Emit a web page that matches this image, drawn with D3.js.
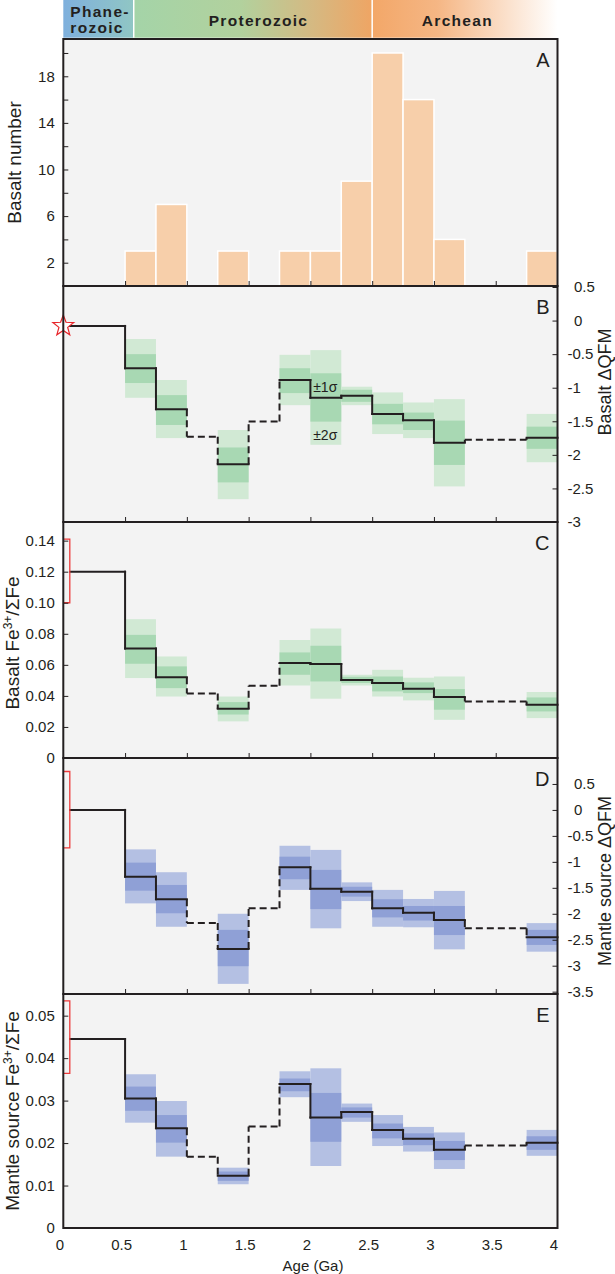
<!DOCTYPE html>
<html><head><meta charset="utf-8">
<script src="https://cdn.jsdelivr.net/npm/d3@7"></script>
<style>
body{margin:0;background:#fff}
svg{display:block}
text{font-family:"Liberation Sans",Arial,sans-serif;fill:#231f20}
</style>
</head><body>
<svg id="c" width="615" height="1274"></svg>
<script>
// ---------------- DATA ----------------
const eraNames = ["Phanerozoic", "Proterozoic", "Archean"];
const eraStart = [0, 0.57, 2.5];
const eraEnd = [0.57, 2.5, 4];

const histBinStart = [0.5, 0.75, 1.25, 1.75, 2.0, 2.25, 2.5, 2.75, 3.0, 3.75];
const histCounts = [3, 7, 3, 3, 3, 9, 20, 16, 4, 3];
const histBinWidth = 0.25;

const stepStart = [0.055, 0.5, 0.75, 1.0, 1.25, 1.5, 1.75, 2.0, 2.25, 2.5, 2.75, 3.0, 3.25, 3.75];
const stepEnd   = [0.5, 0.75, 1.0, 1.25, 1.5, 1.75, 2.0, 2.25, 2.5, 2.75, 3.0, 3.25, 3.75, 4.0];
const hasData   = [1, 1, 1, 0, 1, 0, 1, 1, 1, 1, 1, 1, 0, 1];

// B: basalt ΔQFM
const bQFM     = [-0.08, -0.71, -1.32, -1.73, -2.14, -1.505, -0.885, -1.15, -1.12, -1.39, -1.485, -1.82, -1.775, -1.745];
const bQFM1hi  = [null, -0.50, -1.11, null, -1.89, null, -0.71, -0.785, -1.03, -1.24, -1.37, -1.49, null, -1.58];
const bQFM1lo  = [null, -0.93, -1.555, null, -2.41, null, -1.08, -1.505, -1.21, -1.545, -1.63, -2.15, null, -1.91];
const bQFM2hi  = [null, -0.275, -0.885, null, -1.63, null, -0.51, -0.44, -0.985, -1.07, -1.22, -1.17, null, -1.39];
const bQFM2lo  = [null, -1.15, -1.75, null, -2.66, null, -1.26, -1.85, -1.26, -1.69, -1.75, -2.47, null, -2.11];
const bQFMModern = -0.08;

// C: basalt Fe3+/ΣFe
const bFe     = [0.12, 0.0705, 0.052, 0.0416, 0.0317, 0.0465, 0.0612, 0.0605, 0.0502, 0.0483, 0.0446, 0.0393, 0.0364, 0.0343];
const bFe1hi  = [null, 0.0793, 0.059, null, 0.036, null, 0.068, 0.0723, 0.0523, 0.0525, 0.0487, 0.0444, null, 0.039];
const bFe1lo  = [null, 0.0607, 0.045, null, 0.028, null, 0.0536, 0.0493, 0.0483, 0.0429, 0.0418, 0.0311, null, 0.030];
const bFe2hi  = [null, 0.0894, 0.0654, null, 0.0396, null, 0.076, 0.0834, 0.0536, 0.0568, 0.0517, 0.0525, null, 0.0425];
const bFe2lo  = [null, 0.0515, 0.0396, null, 0.0236, null, 0.0467, 0.0382, 0.0467, 0.0396, 0.0371, 0.0246, null, 0.0257];
const bFeModernRange = [0.100, 0.141];

// D: mantle source ΔQFM
const mQFM    = [0, -1.285, -1.72, -2.18, -2.68, -1.895, -1.105, -1.52, -1.575, -1.895, -1.98, -2.12, -2.28, -2.45];
const mQFM1hi = [null, -1.015, -1.445, null, -2.31, null, -0.90, -1.155, -1.48, -1.72, -1.85, -1.85, null, -2.31];
const mQFM1lo = [null, -1.555, -1.99, null, -3.01, null, -1.335, -1.91, -1.67, -2.07, -2.13, -2.41, null, -2.60];
const mQFM2hi = [null, -0.76, -1.20, null, -2.00, null, -0.69, -0.77, -1.395, -1.54, -1.715, -1.56, null, -2.18];
const mQFM2lo = [null, -1.80, -2.25, null, -3.35, null, -1.54, -2.28, -1.755, -2.25, -2.26, -2.685, null, -2.73];
const mQFMModernRange = [-0.73, 0.74];

// E: mantle source Fe3+/ΣFe
const mFe     = [0.0445, 0.0305, 0.0235, 0.0168, 0.0123, 0.0239, 0.0339, 0.026, 0.0273, 0.0231, 0.021, 0.0184, 0.0194, 0.0201];
const mFe1hi  = [null, 0.0333, 0.0266, null, 0.0133, null, 0.0352, 0.0318, 0.0284, 0.0246, 0.0223, 0.0205, null, 0.0216];
const mFe1lo  = [null, 0.0276, 0.0201, null, 0.0111, null, 0.0322, 0.0203, 0.026, 0.0211, 0.0195, 0.016, null, 0.0184];
const mFe2hi  = [null, 0.0362, 0.0299, null, 0.0142, null, 0.0369, 0.0376, 0.0293, 0.0266, 0.0238, 0.0225, null, 0.0231];
const mFe2lo  = [null, 0.0248, 0.0168, null, 0.0103, null, 0.0308, 0.0146, 0.025, 0.0193, 0.018, 0.0139, null, 0.017];
const mFeModernRange = [0.0364, 0.0535];

// ticks
const xTicks = [0, 0.5, 1, 1.5, 2, 2.5, 3, 3.5, 4];
const xTickLabels = ["0", "0.5", "1", "1.5", "2", "2.5", "3", "3.5", "4"];
const aTicks = [2, 4, 6, 8, 10, 12, 14, 16, 18, 20];
const aTickLabels = ["2", "", "6", "", "10", "", "14", "", "18", ""];
const bTicks = [0.5, 0, -0.5, -1, -1.5, -2, -2.5, -3];
const bTickLabels = ["0.5", "0", "-0.5", "-1", "-1.5", "-2", "-2.5", "-3"];
const cTicks = [0, 0.02, 0.04, 0.06, 0.08, 0.10, 0.12, 0.14];
const cTickLabels = ["0", "0.02", "0.04", "0.06", "0.08", "0.10", "0.12", "0.14"];
const dTicks = [0.5, 0, -0.5, -1, -1.5, -2, -2.5, -3, -3.5];
const dTickLabels = ["0.5", "0", "-0.5", "-1", "-1.5", "-2", "-2.5", "-3", "-3.5"];
const eTicks = [0, 0.01, 0.02, 0.03, 0.04, 0.05];
const eTickLabels = ["0", "0.01", "0.02", "0.03", "0.04", "0.05"];

// ---------------- LAYOUT ----------------
const ink = "#231f20";
const X0 = 63.3, X1 = 557.5;
const x = d3.scaleLinear().domain([0, 4]).range([X0, X1]);
const svg = d3.select("#c");
const defs = svg.append("defs");

function grad(id, stops) {
  const g = defs.append("linearGradient").attr("id", id).attr("x1", "0").attr("x2", "1").attr("y1", "0").attr("y2", "0");
  stops.forEach(s => g.append("stop").attr("offset", s[0]).attr("stop-color", s[1]));
}
grad("gPh", [[0, "#7fb0dd"], [1, "#90c6c4"]]);
grad("gPr", [[0, "#a4d4a8"], [0.45, "#b2d19d"], [0.75, "#d5b982"], [1, "#efa564"]]);
grad("gAr", [[0, "#f3a768"], [0.35, "#f5b684"], [1, "#ffffff"]]);
const eraFills = ["url(#gPh)", "url(#gPr)", "url(#gAr)"];

// era bar
const eraTop = 0, eraBot = 37.7;
svg.selectAll("rect.era").data(eraNames).join("rect").attr("class", "era")
  .attr("x", (d, i) => x(eraStart[i])).attr("y", eraTop)
  .attr("width", (d, i) => x(eraEnd[i]) - x(eraStart[i])).attr("height", eraBot - eraTop)
  .attr("fill", (d, i) => eraFills[i]);
[eraEnd[0], eraEnd[1]].forEach(a => svg.append("line").attr("x1", x(a)).attr("x2", x(a))
  .attr("y1", eraTop).attr("y2", eraBot).attr("stroke", "#fff").attr("stroke-width", 1.5));
function eraText(str, xx, yy, anchor) {
  svg.append("text").attr("x", xx).attr("y", yy).attr("text-anchor", anchor)
    .attr("font-size", 15.5).attr("font-weight", "bold").style("letter-spacing", "1.3px").text(str);
}
eraText("Phane-", x(eraStart[0]) + 7, 16.7, "start");
eraText("rozoic", x(eraStart[0]) + 7, 33.3, "start");
eraText(eraNames[1], x(1.58), 26, "middle");
eraText(eraNames[2], x(3.19), 26, "middle");

const panels = [
  {key: "A", top: 39, bottom: 286},
  {key: "B", top: 286, bottom: 522},
  {key: "C", top: 522, bottom: 758},
  {key: "D", top: 758, bottom: 994},
  {key: "E", top: 994, bottom: 1228}
];
// backgrounds
panels.forEach(p => svg.append("rect").attr("x", X0).attr("y", p.top).attr("width", X1 - X0)
  .attr("height", p.bottom - p.top).attr("fill", "#f3f3f3"));

// ---------- Panel A ----------
const pA = panels[0];
const yA = d3.scaleLinear().domain([0, 21.2]).range([pA.bottom, pA.top]);
svg.append("g").selectAll("rect").data(histCounts).join("rect")
  .attr("x", (d, i) => x(histBinStart[i])).attr("width", (d, i) => x(histBinStart[i] + histBinWidth) - x(histBinStart[i]))
  .attr("y", d => yA(d)).attr("height", d => yA(0) - yA(d))
  .attr("fill", "#f7cfaa").attr("stroke", "#fff").attr("stroke-width", 1.5);

// ---------- step panels ----------
function stepPanel(p, y, line, s1lo, s1hi, s2lo, s2hi, light, dark) {
  const g = svg.append("g");
  line.forEach((v, i) => {
    if (s2lo[i] != null) {
      g.append("rect").attr("x", x(stepStart[i])).attr("width", x(stepEnd[i]) - x(stepStart[i]))
        .attr("y", y(s2hi[i])).attr("height", y(s2lo[i]) - y(s2hi[i])).attr("fill", light);
      g.append("rect").attr("x", x(stepStart[i])).attr("width", x(stepEnd[i]) - x(stepStart[i]))
        .attr("y", y(s1hi[i])).attr("height", y(s1lo[i]) - y(s1hi[i])).attr("fill", dark);
    }
  });
  line.forEach((v, i) => {
    const dashed = !hasData[i];
    g.append("line").attr("x1", x(stepStart[i])).attr("x2", x(stepEnd[i]))
      .attr("y1", y(v)).attr("y2", y(v)).attr("stroke", ink).attr("stroke-width", 2)
      .attr("stroke-dasharray", dashed ? "7,4" : null)
      .attr("stroke-linecap", dashed ? "butt" : "square");
    if (i < line.length - 1) {
      const d2 = !hasData[i] || !hasData[i + 1];
      g.append("line").attr("x1", x(stepEnd[i])).attr("x2", x(stepEnd[i]))
        .attr("y1", y(v)).attr("y2", y(line[i + 1])).attr("stroke", ink).attr("stroke-width", 2)
        .attr("stroke-dasharray", d2 ? "7,4" : null)
        .attr("stroke-linecap", d2 ? "butt" : "square");
    }
  });
  return g;
}
function modernBracket(y, range) {
  svg.append("path")
    .attr("d", `M${X0},${y(range[1])}H${X0 + 6.5}V${y(range[0])}H${X0}`)
    .attr("fill", "none").attr("stroke", "#ee3b3b").attr("stroke-width", 1.3);
}

const green2 = "#d1e9d4", green1 = "#a8d8b3";
const blue2 = "#b4c0e3", blue1 = "#8fa0d6";

const pB = panels[1];
const yB = d3.scaleLinear().domain([-3, 0.515]).range([pB.bottom, pB.top]);
stepPanel(pB, yB, bQFM, bQFM1lo, bQFM1hi, bQFM2lo, bQFM2hi, green2, green1);
svg.append("text").attr("x", x(2.12)).attr("y", 391.5).attr("text-anchor", "middle").attr("font-size", 14).text("±1σ");
svg.append("text").attr("x", x(2.12)).attr("y", 440).attr("text-anchor", "middle").attr("font-size", 14).text("±2σ");
// star
(function () {
  const cx = X0, cy = yB(bQFMModern), R = 11, r = 4.6;
  const pts = d3.range(10).map(k => {
    const ang = -Math.PI / 2 + k * Math.PI / 5;
    const rr = k % 2 ? r : R;
    return [cx + rr * Math.cos(ang), cy + rr * Math.sin(ang)];
  });
  svg.append("path").attr("d", "M" + pts.join("L") + "Z").attr("fill", "#fff")
    .attr("stroke", "#e8262b").attr("stroke-width", 1.2);
})();

const pC = panels[2];
const yC = d3.scaleLinear().domain([0, 0.152]).range([pC.bottom, pC.top]);
stepPanel(pC, yC, bFe, bFe1lo, bFe1hi, bFe2lo, bFe2hi, green2, green1);
modernBracket(yC, bFeModernRange);

const pD = panels[3];
const yD = d3.scaleLinear().domain([-3.545, 1.0]).range([pD.bottom, pD.top]);
stepPanel(pD, yD, mQFM, mQFM1lo, mQFM1hi, mQFM2lo, mQFM2hi, blue2, blue1);
modernBracket(yD, mQFMModernRange);

const pE = panels[4];
const yE = d3.scaleLinear().domain([0, 0.0551]).range([pE.bottom, pE.top]);
stepPanel(pE, yE, mFe, mFe1lo, mFe1hi, mFe2lo, mFe2hi, blue2, blue1);
modernBracket(yE, mFeModernRange);

// ---------- axes ----------
function styleAxis(g) {
  g.select(".domain").remove();
  g.selectAll(".tick line").attr("stroke", ink).attr("stroke-width", 1);
  g.selectAll(".tick text").attr("font-size", 15).attr("font-family", '"Liberation Sans",Arial,sans-serif').attr("fill", ink);
  g.attr("font-family", null).attr("font-size", null);
}
function leftAxis(y, ticks, labels) {
  const g = svg.append("g").attr("transform", `translate(${X0},0)`)
    .call(d3.axisLeft(y).tickValues(ticks).tickSize(-5).tickPadding(8.5).tickFormat((d, i) => labels[i]));
  styleAxis(g);
}
function rightAxis(y, ticks, labels) {
  const g = svg.append("g").attr("transform", `translate(${X1},0)`)
    .call(d3.axisRight(y).tickValues(ticks).tickSize(-5).tickPadding(16.5).tickFormat((d, i) => labels[i]));
  styleAxis(g);
  g.selectAll(".tick text").attr("dx", d => d < 0 ? -6.5 : 0);
}
leftAxis(yA, aTicks, aTickLabels);
rightAxis(yB, bTicks, bTickLabels);
leftAxis(yC, cTicks, cTickLabels);
rightAxis(yD, dTicks, dTickLabels);
leftAxis(yE, eTicks, eTickLabels);

// inward x ticks at bottom of A–D
panels.slice(0, 4).forEach(p => {
  const g = svg.append("g").attr("transform", `translate(0,${p.bottom})`)
    .call(d3.axisBottom(x).tickValues(xTicks.slice(1, -1)).tickSize(-5).tickFormat(""));
  styleAxis(g);
});
// bottom labels
const gx = svg.append("g").attr("transform", `translate(0,${pE.bottom})`)
  .call(d3.axisBottom(x).tickValues(xTicks).tickSize(0).tickPadding(11).tickFormat((d, i) => xTickLabels[i]));
styleAxis(gx);
gx.selectAll(".tick text").attr("dx", -4);

// borders
panels.forEach(p => svg.append("rect").attr("x", X0).attr("y", p.top).attr("width", X1 - X0)
  .attr("height", p.bottom - p.top).attr("fill", "none").attr("stroke", ink).attr("stroke-width", 2));

// panel letters
panels.forEach(p => svg.append("text").attr("x", 549.5).attr("y", p.top + 28).attr("text-anchor", "end")
  .attr("font-size", 20).text(p.key));

// axis titles
function vTitle(xx, yy, parts, fs) {
  const t = svg.append("text").attr("transform", `translate(${xx},${yy}) rotate(-90)`)
    .attr("text-anchor", "middle").attr("font-size", fs || 19);
  parts.forEach(pt => {
    const s = t.append("tspan").text(pt.t);
    if (pt.sup) s.attr("font-size", 12).attr("dy", -7);
    if (pt.after) s.attr("dy", 7);
  });
}
vTitle(21, 162.5, [{t: "Basalt number"}]);
vTitle(610.5, 382, [{t: "Basalt ΔQFM"}], 18);
vTitle(19, 643, [{t: "Basalt Fe"}, {t: "3+", sup: true}, {t: "/ΣFe", after: true}]);
vTitle(610.5, 881, [{t: "Mantle source ΔQFM"}], 18);
vTitle(19, 1111, [{t: "Mantle source Fe"}, {t: "3+", sup: true}, {t: "/ΣFe", after: true}]);

svg.append("text").attr("x", 313).attr("y", 1271).attr("text-anchor", "middle").attr("font-size", 15).text("Age (Ga)");
</script>
</body></html>
